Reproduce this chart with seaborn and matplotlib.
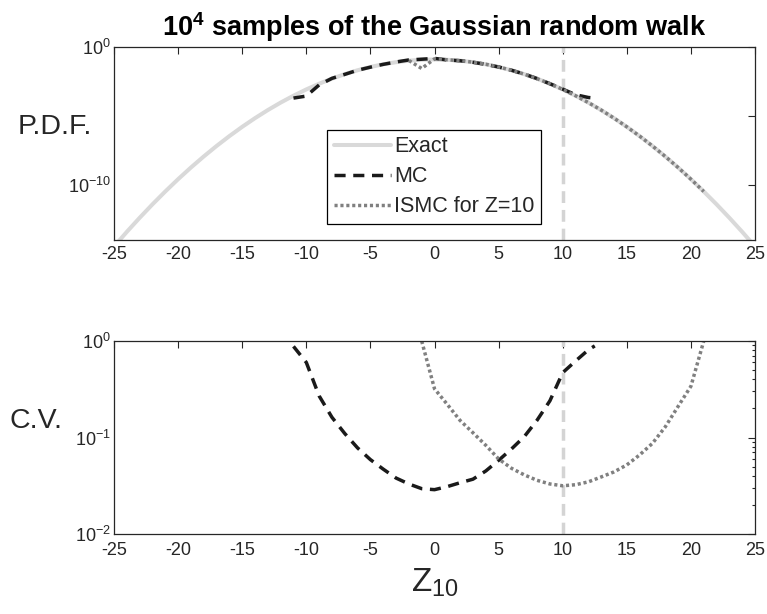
import matplotlib
matplotlib.use("Agg")
import matplotlib.pyplot as plt
import seaborn as sns
import numpy as np
from matplotlib.ticker import FixedLocator, NullFormatter, LogLocator, FuncFormatter

# ---------------- data ----------------
z_exact = list(range(-25, 26))
pdf_exact = [3.38e-15, 3.93e-14, 4.11e-13, 3.90e-12, 3.35e-11, 2.60e-10, 1.83e-9,
             1.16e-8, 6.69e-8, 3.48e-7, 1.64e-6, 7.00e-6, 2.70e-5, 9.42e-5, 2.97e-4,
             8.50e-4, 2.20e-3, 5.14e-3, 1.089e-2, 2.09e-2, 3.61e-2, 5.67e-2, 8.04e-2,
             0.1033, 0.1200, 0.1262,
             0.1200, 0.1033, 8.04e-2, 5.67e-2, 3.61e-2, 2.09e-2, 1.089e-2, 5.14e-3,
             2.20e-3, 8.50e-4, 2.97e-4, 9.42e-5, 2.70e-5, 7.00e-6, 1.64e-6, 3.48e-7,
             6.69e-8, 1.16e-8, 1.83e-9, 2.60e-10, 3.35e-11, 3.90e-12, 4.11e-13,
             3.93e-14, 3.38e-15]

z_mc = [-11, -10, -9, -8, -7, -6, -5, -4, -3, -2, -1, 0, 1, 2, 3, 4, 5, 6, 7, 8, 9,
        10, 11, 12, 12.5]
pdf_mc = [2.0e-4, 2.8e-4, 1.8e-3, 5.4e-3, 1.05e-2, 2.1e-2, 3.5e-2, 5.6e-2, 8.3e-2,
          0.117, 0.132, 0.151, 0.117, 0.102, 0.079, 0.056, 0.036, 0.021, 0.011,
          5.2e-3, 2.2e-3, 8.9e-4, 3.5e-4, 2.2e-4, 2.0e-4]

z_ismc = [-2, -1, 0, 1, 2, 3, 4, 5, 6, 7, 8, 9, 10, 11, 12, 13, 14, 15, 16, 17, 18,
          19, 20, 21]
pdf_ismc = [0.107, 0.028, 0.140, 0.120, 0.1033, 8.04e-2, 5.67e-2, 3.61e-2, 2.09e-2,
            1.089e-2, 5.14e-3, 2.20e-3, 8.50e-4, 2.97e-4, 9.42e-5, 2.70e-5, 7.00e-6,
            1.64e-6, 3.48e-7, 6.69e-8, 1.16e-8, 1.83e-9, 2.60e-10, 3.35e-11]

cv_mc = [0.88, 0.60, 0.27, 0.162, 0.110, 0.078, 0.059, 0.047, 0.038, 0.033, 0.0295,
         0.0288, 0.031, 0.034, 0.037, 0.045, 0.058, 0.076, 0.102, 0.151, 0.24, 0.47,
         0.62, 0.81, 0.89]

z_ismc_cv = [-1, 0, 1, 2, 3, 4, 5, 6, 7, 8, 9, 10, 11, 12, 13, 14, 15, 16, 17, 18,
             19, 20, 21]
cv_ismc = [1.0, 0.32, 0.22, 0.15, 0.112, 0.083, 0.060, 0.048, 0.041, 0.036, 0.033,
           0.0316, 0.0324, 0.0347, 0.039, 0.044, 0.052, 0.066, 0.087, 0.129, 0.21,
           0.34, 1.0]

z_target = 10
x_ticks = [-25, -20, -15, -10, -5, 0, 5, 10, 15, 20, 25]

# ---------------- style ----------------
sns.set_theme(style="white")
FONT = ["Liberation Sans", "DejaVu Sans"]
plt.rcParams["font.family"] = FONT
plt.rcParams["mathtext.fontset"] = "custom"
plt.rcParams["mathtext.rm"] = "Liberation Sans"
plt.rcParams["mathtext.it"] = "Liberation Sans:italic"
plt.rcParams["mathtext.bf"] = "Liberation Sans:bold"
plt.rcParams["axes.unicode_minus"] = False

C_EXACT = "#d9d9d9"
C_MC = "#1a1a1a"
C_ISMC = "#808080"
C_VLINE = "#d4d4d4"
AX_COL = "#262626"

fig = plt.figure(figsize=(7.67, 6.14), dpi=100)
ax1 = fig.add_axes([0.1486, 0.609, 0.8358, 0.3143])
ax2 = fig.add_axes([0.1486, 0.1303, 0.8358, 0.3143])

LW = 2.5

def style_axes(ax, xpad=4):
    for s in ax.spines.values():
        s.set_visible(True)
        s.set_color(AX_COL)
        s.set_linewidth(0.9)
    ax.tick_params(which="both", direction="in", top=True, right=True,
                   color=AX_COL, labelcolor=AX_COL, width=0.8)
    ax.tick_params(which="major", length=5, labelsize=13)
    ax.tick_params(which="minor", length=2.5)
    ax.tick_params(axis="x", pad=xpad)
    ax.tick_params(axis="y", pad=2)
    ax.set_xlim(-25, 25)
    ax.xaxis.set_major_locator(FixedLocator(x_ticks))
    ax.set_xticklabels([str(t) for t in x_ticks])

def pow_fmt(v, pos):
    e = int(round(np.log10(v)))
    return r"$\mathregular{10^{%d}}$" % e

# ---------------- top panel ----------------
sns.lineplot(x=z_exact, y=pdf_exact, ax=ax1, color=C_EXACT, linewidth=LW + 0.4,
             estimator=None, label="Exact")
sns.lineplot(x=z_mc, y=pdf_mc, ax=ax1, color=C_MC, linewidth=LW,
             estimator=None, label="MC")
sns.lineplot(x=z_ismc, y=pdf_ismc, ax=ax1, color=C_ISMC, linewidth=LW,
             estimator=None, label="ISMC for Z=10")
ax1.lines[1].set_dashes((3.2, 2.2))
ax1.lines[2].set_dashes((0.9, 0.8))
for ln in ax1.lines:
    ln.set_dash_capstyle("butt")
ax1.axvline(z_target, color=C_VLINE, linewidth=LW, dashes=(3.4, 2.0), zorder=1)
ax1.set_yscale("log")
ax1.set_ylim(1e-14, 1e0)
style_axes(ax1)
ax1.yaxis.set_major_locator(FixedLocator([1e-10, 1e-5, 1e0]))
ax1.yaxis.set_major_formatter(FuncFormatter(
    lambda v, p: pow_fmt(v, p) if abs(np.log10(v)) % 10 < 0.5 else ""))
ax1.yaxis.set_minor_locator(FixedLocator([]))
ax1.set_ylabel("P.D.F.", rotation=0, fontsize=20.5, color=AX_COL, ha="right",
               va="center")
ax1.yaxis.set_label_coords(-0.034, 0.585)
ax1.set_xlabel("")
ax1.set_title(r"$\mathbf{10^{4}}$ samples of the Gaussian random walk",
              fontsize=19.5, fontweight="bold", color="black", pad=8)

leg = ax1.legend(loc="upper left", bbox_to_anchor=(0.333, 0.572), fontsize=15.5,
                 frameon=True, fancybox=False, framealpha=1, edgecolor="black",
                 handlelength=2.65, handletextpad=0.15, labelspacing=0.42,
                 borderpad=0.3, borderaxespad=0)
leg.get_frame().set_linewidth(0.9)
for t in leg.get_texts():
    t.set_color(AX_COL)

# ---------------- bottom panel ----------------
sns.lineplot(x=z_mc, y=cv_mc, ax=ax2, color=C_MC, linewidth=LW, estimator=None)
sns.lineplot(x=z_ismc_cv, y=cv_ismc, ax=ax2, color=C_ISMC, linewidth=LW,
             estimator=None)
ax2.lines[0].set_dashes((3.2, 2.2))
ax2.lines[1].set_dashes((0.9, 0.8))
for ln in ax2.lines:
    ln.set_dash_capstyle("butt")
ax2.axvline(z_target, color=C_VLINE, linewidth=LW, dashes=(3.4, 2.0), zorder=1)
ax2.set_yscale("log")
ax2.set_ylim(1e-2, 1e0)
style_axes(ax2, xpad=6)
ax2.yaxis.set_major_locator(FixedLocator([1e-2, 1e-1, 1e0]))
ax2.yaxis.set_major_formatter(FuncFormatter(pow_fmt))
ax2.yaxis.set_minor_locator(LogLocator(base=10, subs=np.arange(2, 10)))
ax2.yaxis.set_minor_formatter(NullFormatter())
ax2.set_ylabel("C.V.", rotation=0, fontsize=20.5, color=AX_COL, ha="right",
               va="center")
ax2.yaxis.set_label_coords(-0.081, 0.585)
ax2.set_xlabel(r"$\mathregular{Z_{10}}$", fontsize=24, color=AX_COL)
ax2.xaxis.set_label_coords(0.5, -0.17)
if ax2.get_legend() is not None:
    ax2.get_legend().remove()

fig.savefig("out.png", dpi=100)
